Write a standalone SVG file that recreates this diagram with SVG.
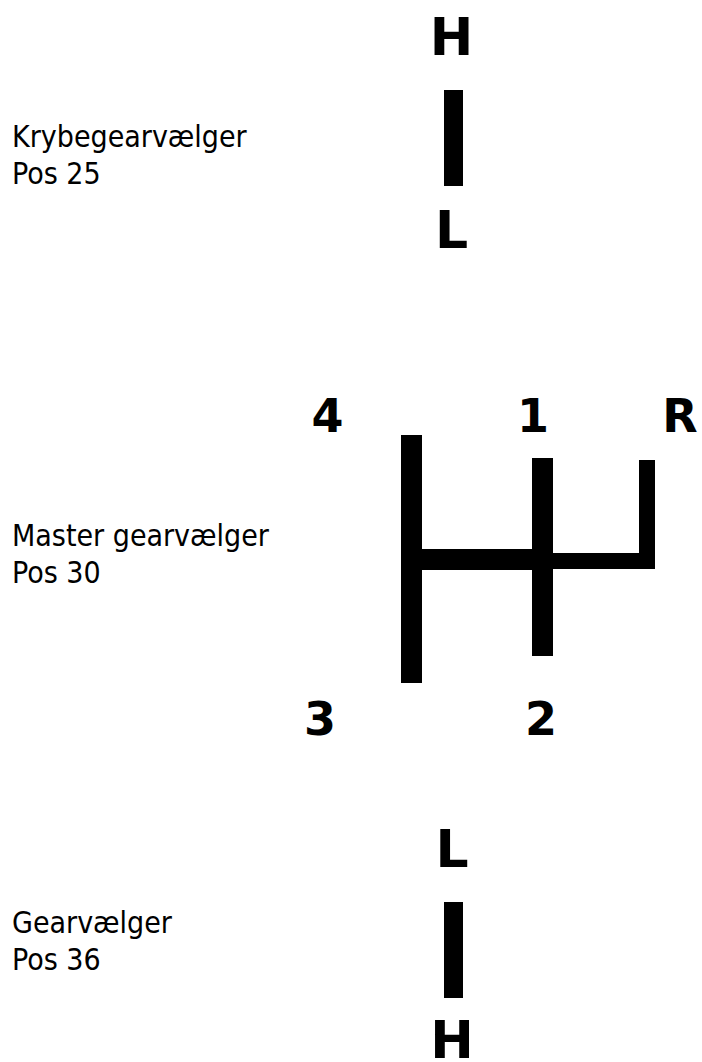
<svg xmlns="http://www.w3.org/2000/svg" width="702" height="1062" viewBox="0 0 702 1062">
<style>
.lbl{font-family:"DejaVu Sans Condensed","DejaVu Sans",sans-serif;font-stretch:condensed;font-size:30px;fill:#000}
.big{font-family:"DejaVu Sans",Verdana,sans-serif;font-weight:bold;font-size:52px;fill:#000;text-anchor:middle}
.dig{font-family:"DejaVu Sans",Verdana,sans-serif;font-weight:bold;font-size:46px;fill:#000;text-anchor:middle}
.bar{fill:#000}
</style>
<rect width="702" height="1062" fill="#fff"/>
<g id="krybegear">
<text class="lbl" x="12" y="147">Krybegearvælger</text>
<text class="lbl" x="12" y="184">Pos 25</text>
<text class="big" x="451.5" y="55">H</text>
<rect class="bar" x="444" y="90" width="19" height="96"/>
<text class="big" x="451.5" y="248">L</text>
</g>
<g id="master">
<text class="lbl" x="12" y="546">Master gearvælger</text>
<text class="lbl" x="12" y="583">Pos 30</text>
<text class="dig" x="327.5" y="432">4</text>
<text class="dig" x="533" y="432">1</text>
<text class="dig" x="680" y="432">R</text>
<text class="dig" x="320" y="735">3</text>
<text class="dig" x="541" y="735">2</text>
<rect class="bar" x="401" y="435" width="21" height="248"/>
<rect class="bar" x="532" y="458" width="21" height="198"/>
<rect class="bar" x="639" y="460" width="16" height="109"/>
<rect class="bar" x="421" y="549" width="112" height="21"/>
<rect class="bar" x="552" y="553" width="103" height="16"/>
</g>
<g id="gear">
<text class="lbl" x="12" y="933">Gearvælger</text>
<text class="lbl" x="12" y="970">Pos 36</text>
<text class="big" x="452" y="867">L</text>
<rect class="bar" x="444" y="902" width="19" height="96"/>
<text class="big" x="452" y="1058">H</text>
</g>
<g id="connectors"/>
</svg>
